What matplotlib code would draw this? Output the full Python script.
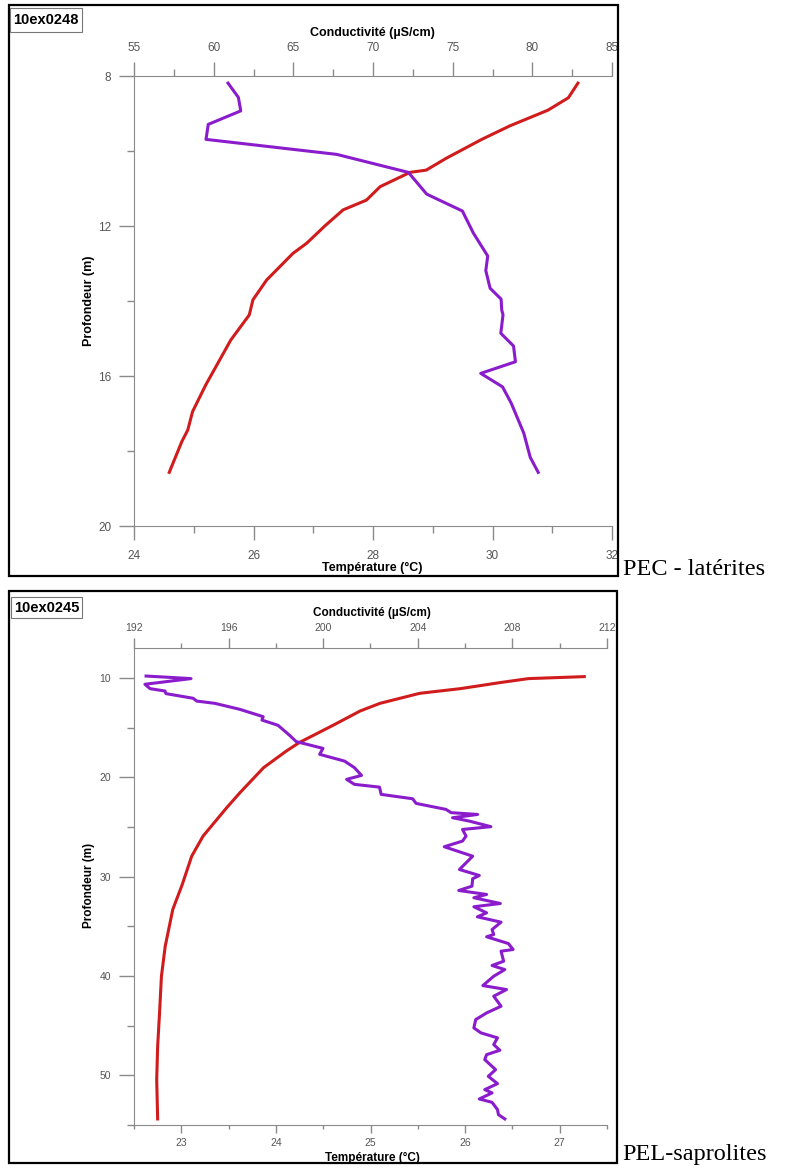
import matplotlib
matplotlib.use('Agg')
import matplotlib.pyplot as plt
from matplotlib.patches import Rectangle
from matplotlib.ticker import MultipleLocator

plt.rcParams['font.family'] = ['Liberation Sans', 'DejaVu Sans']

W, H = 797, 1168

# Panel 1 (10ex0248) - temperature profile.
depthT1 = [8.19, 8.58, 8.91, 9.33, 9.69, 10.19, 10.51, 10.57, 10.95, 11.31, 11.57, 11.99,
           12.46, 12.73, 13.44, 13.97, 14.37, 15.04, 16.24, 16.95, 17.44, 17.75, 18.57]
temp1 = [31.43, 31.27, 30.93, 30.29, 29.82, 29.23, 28.89, 28.62, 28.12, 27.89, 27.50, 27.20,
         26.89, 26.66, 26.22, 25.99, 25.93, 25.62, 25.20, 24.98, 24.90, 24.80, 24.59]

# Panel 1 - conductivity profile.
depthC1 = [8.19, 8.57, 8.93, 9.29, 9.69, 10.09, 10.57, 11.15, 11.60, 12.19, 12.80, 13.19,
           13.66, 13.95, 14.24, 14.37, 14.86, 15.20, 15.62, 15.93, 16.29, 16.72, 17.52, 18.17, 18.57]
cond1 = [60.90, 61.55, 61.70, 59.66, 59.52, 67.72, 72.22, 73.37, 75.61, 76.30, 77.20, 77.08,
         77.35, 78.04, 78.08, 78.16, 78.02, 78.82, 78.94, 76.76, 78.13, 78.67, 79.46, 79.87, 80.37]

# Panel 2 (10ex0245) - temperature profile.
depthT2 = [9.88, 10.08, 10.48, 11.09, 11.56, 12.57, 13.34, 14.75, 16.5, 17.37, 19.04, 21.56,
           23.07, 25.93, 27.95, 30.8, 33.31, 37.01, 40.03, 43.72, 47.08, 50.43, 54.39]
temp2 = [27.26, 26.67, 26.37, 25.95, 25.52, 25.10, 24.89, 24.61, 24.25, 24.11, 23.87, 23.62,
         23.48, 23.23, 23.11, 23.01, 22.91, 22.83, 22.79, 22.77, 22.75, 22.74, 22.75]

# Panel 2 - conductivity profile.
depthC2 = [9.82, 10.08, 10.65, 11.09, 11.33, 11.59, 12.06, 12.34, 12.57, 13.17, 13.91, 14.25,
           14.78, 15.79, 16.42, 17.10, 17.70, 18.38, 19.04, 19.82, 20.22, 20.72, 21.00, 21.73,
           22.17, 22.64, 23.24, 23.57, 23.75, 24.08, 24.42, 24.98, 25.26, 25.93, 26.43, 27.00,
           27.95, 29.29, 29.89, 30.22, 30.97, 31.40, 31.80, 32.13, 32.71, 33.04, 33.65, 34.05,
           34.59, 35.33, 35.83, 36.06, 36.74, 37.34, 37.51, 38.52, 38.95, 39.36, 40.03, 40.97,
           41.37, 42.04, 43.05, 43.72, 44.39, 45.23, 45.73, 46.23, 46.91, 47.48, 47.92, 48.42,
           49.43, 50.10, 50.84, 51.44, 51.77, 52.38, 52.72, 53.45, 53.96, 54.39]
cond2 = [192.51, 194.41, 192.46, 192.68, 193.31, 193.35, 194.50, 194.65, 195.42, 196.47, 197.46, 197.41,
         198.09, 198.58, 198.86, 199.99, 199.85, 200.90, 201.32, 201.62, 200.99, 201.32, 202.38, 202.45,
         203.78, 203.93, 205.19, 205.41, 206.53, 205.47, 206.18, 207.09, 205.89, 206.04, 205.89, 205.12,
         206.32, 205.76, 206.60, 206.32, 206.29, 205.73, 206.91, 206.37, 207.49, 206.37, 206.91, 206.52,
         207.52, 207.14, 207.21, 206.91, 207.83, 208.03, 207.52, 207.63, 207.14, 207.68, 207.21, 206.75,
         207.75, 207.21, 207.52, 206.91, 206.45, 206.37, 206.67, 207.37, 207.21, 207.47, 206.91, 206.83,
         207.29, 206.98, 207.37, 206.83, 207.14, 206.60, 207.14, 207.37, 207.41, 207.68]

RED = '#d01c1c'
PURPLE = '#8a1ccc'
AXGRAY = '#8a8a8a'
LABGRAY = '#555555'


def figRect(x0, y0, x1, y1):
  return [x0 / W, 1 - y1 / H, (x1 - x0) / W, (y1 - y0) / H]


def fx(x):
  return x / W


def fy(y):
  return 1 - y / H


def drawPanel(fig, box, axBox, name, labelBox, depth, temp, dLim, tLim, tStep,
              cDepth, cond, cLim, cStep, dStep, topLen, botLen, titleY,
              tickSize=8.5, titleSize=9, topPad=6, botPad=7):
  # Outer frame.
  bx0, by0, bx1, by1 = box
  fig.add_artist(Rectangle((fx(bx0), fy(by1)), (bx1 - bx0) / W, (by1 - by0) / H,
                           transform=fig.transFigure, fill=False, ec='black', lw=1.6))
  lx0, ly0, lx1, ly1 = labelBox
  fig.add_artist(Rectangle((fx(lx0), fy(ly1)), (lx1 - lx0) / W, (ly1 - ly0) / H,
                           transform=fig.transFigure, fill=False, ec='#777777', lw=0.8))
  fig.text(fx(lx0 + 3), fy((ly0 + ly1) / 2), name, fontsize=10.5, fontweight='bold',
           ha='left', va='center')

  # Axes.
  ax = fig.add_axes(figRect(*axBox))
  ax2 = ax.twiny()
  ax.plot(temp, depth, color=RED, lw=2.2, solid_joinstyle='round')
  ax2.plot(cond, cDepth, color=PURPLE, lw=2.2, solid_joinstyle='round')

  ax.set_xlim(tLim)
  ax.set_ylim(dLim)
  ax2.set_xlim(cLim)

  ax.xaxis.set_major_locator(MultipleLocator(tStep))
  ax.xaxis.set_minor_locator(MultipleLocator(tStep / 2))
  ax2.xaxis.set_major_locator(MultipleLocator(cStep))
  ax2.xaxis.set_minor_locator(MultipleLocator(cStep / 2))
  ax.yaxis.set_major_locator(MultipleLocator(dStep))
  ax.yaxis.set_minor_locator(MultipleLocator(dStep / 2))

  # Spines.
  for s in ('top', 'right'):
    ax.spines[s].set_visible(False)
  for s in ('bottom', 'right', 'left'):
    ax2.spines[s].set_visible(False)
  for s in ('left', 'bottom'):
    ax.spines[s].set_color(AXGRAY)
  ax2.spines['top'].set_color(AXGRAY)

  # Ticks.
  ax.tick_params(axis='x', which='major', direction='out', length=botLen, width=1,
                 color=AXGRAY, labelcolor=LABGRAY, labelsize=tickSize, pad=botPad)
  ax.tick_params(axis='x', which='minor', direction='out', length=botLen / 2, width=1,
                 color=AXGRAY)
  ax.tick_params(axis='y', which='major', direction='out', length=10.5, width=1,
                 color=AXGRAY, labelcolor=LABGRAY, labelsize=tickSize, pad=6)
  ax.tick_params(axis='y', which='minor', direction='out', length=5, width=1, color=AXGRAY)
  ax2.tick_params(axis='x', which='major', direction='out', length=topLen, width=1,
                  color=AXGRAY, labelcolor=LABGRAY, labelsize=tickSize, pad=topPad)
  ax2.tick_params(axis='x', which='minor', direction='out', length=topLen / 2, width=1,
                  color=AXGRAY)

  # Titles.
  fig.text(fx(372), fy(titleY[0]), 'Conductivité (µS/cm)', fontsize=titleSize,
           fontweight='bold', ha='center', va='center')
  fig.text(fx(372), fy(titleY[1]), 'Température (°C)', fontsize=titleSize,
           fontweight='bold', ha='center', va='center')
  fig.text(fx(89), fy(titleY[2]), 'Profondeur (m)', fontsize=titleSize, fontweight='bold',
           ha='center', va='center', rotation=90)
  return ax, ax2


fig = plt.figure(figsize=(W / 100, H / 100), dpi=100)

drawPanel(fig, (9, 5, 618, 576), (134, 76, 612, 526), '10ex0248', (10, 8, 82, 32),
          depthT1, temp1, (20, 8), (24, 32), 2,
          depthC1, cond1, (55, 85), 5, 4, 10, 10, (33, 568, 301))
fig.text(fx(623), fy(575), 'PEC - latérites', fontsize=17.5, family='Liberation Serif',
         ha='left', va='baseline')

drawPanel(fig, (9, 591, 617, 1163), (134, 648, 607, 1125), '10ex0245', (11, 597, 82, 618),
          depthT2, temp2, (55, 7), (22.5, 27.5), 1,
          depthC2, cond2, (192, 212), 4, 10, 7, 6, (613, 1158, 885),
          tickSize=7.5, titleSize=8.5, topPad=3.5, botPad=3.5)
fig.text(fx(622), fy(1160), 'PEL-saprolites', fontsize=17.5, family='Liberation Serif',
         ha='left', va='baseline')

fig.savefig('out.png', dpi=100)
